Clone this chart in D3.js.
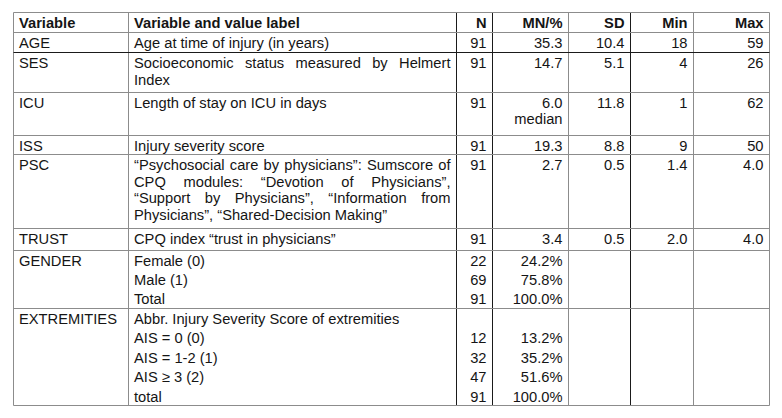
<!DOCTYPE html>
<html><head><meta charset="utf-8">
<script src="https://cdn.jsdelivr.net/npm/d3@7/dist/d3.min.js"></script>
<style>
html,body{margin:0;padding:0;background:#fff;}
svg{display:block;}
text{font-family:"Liberation Sans",Arial,sans-serif;font-size:14.7px;fill:#151515;}
</style></head>
<body>
<svg id="chart" width="782" height="418"></svg>
<script>
// ---- data ----
const headers = ["Variable", "Variable and value label", "N", "MN/%", "SD", "Min", "Max"];
const variables = ["AGE", "SES", "ICU", "ISS", "PSC", "TRUST", "GENDER", "EXTREMITIES"];
const labelLines = [
  ["Age at time of injury (in years)"],
  ["Socioeconomic status measured by Helmert", "Index"],
  ["Length of stay on ICU in days"],
  ["Injury severity score"],
  ["\u201CPsychosocial care by physicians\u201D: Sumscore of",
   "CPQ modules: \u201CDevotion of Physicians\u201D,",
   "\u201CSupport by Physicians\u201D, \u201CInformation from",
   "Physicians\u201D, \u201CShared-Decision Making\u201D"],
  ["CPQ index \u201Ctrust in physicians\u201D"],
  ["Female (0)", "Male (1)", "Total"],
  ["Abbr. Injury Severity Score of extremities", "AIS = 0 (0)", "AIS = 1-2 (1)", "AIS \u2265 3 (2)", "total"]
];
const nValues   = [["91"], ["91"], ["91"], ["91"], ["91"], ["91"], ["22", "69", "91"], ["", "12", "32", "47", "91"]];
const mnValues  = [["35.3"], ["14.7"], ["6.0", "median"], ["19.3"], ["2.7"], ["3.4"], ["24.2%", "75.8%", "100.0%"], ["", "13.2%", "35.2%", "51.6%", "100.0%"]];
const sdValues  = [["10.4"], ["5.1"], ["11.8"], ["8.8"], ["0.5"], ["0.5"], [], []];
const minValues = [["18"], ["4"], ["1"], ["9"], ["1.4"], ["2.0"], [], []];
const maxValues = [["59"], ["26"], ["62"], ["50"], ["4.0"], ["4.0"], [], []];

// ---- layout ----
const colEdges = [13.5, 128.5, 456.5, 492.5, 568.5, 630.5, 693.5, 769.5];
const rowEdges = [12.5, 32.5, 52.5, 92.5, 135.5, 154.5, 228.5, 250.5, 308.5, 405.5];
const justifyRows = {1: [true, false], 4: [true, true, true, false]};
const lineGap = [16.7, 16.7, 15.5, 16.7, 16.7, 16.7, 19.2, 19.4];
const firstBase = 15.5;
const pad = 5.5;

const svg = d3.select("#chart");
const gLines = svg.append("g");
const gText = svg.append("g");

const x = i => colEdges[i];
const rowTop = i => rowEdges[i + 1];

// header
headers.forEach((h, c) => {
  const right = c >= 2;
  gText.append("text")
    .attr("x", right ? x(c + 1) - pad - 0.5 : x(c) + pad)
    .attr("y", rowEdges[0] + firstBase)
    .attr("text-anchor", right ? "end" : "start")
    .style("font-weight", "bold")
    .text(h);
});

function leftText(txt, xx, yy) {
  return gText.append("text").attr("x", xx).attr("y", yy).text(txt);
}

variables.forEach((v, r) => {
  const top = rowTop(r);
  const base = top + firstBase;
  leftText(v, x(0) + pad, base);
  labelLines[r].forEach((line, k) => {
    const yy = base + k * lineGap[r];
    const just = justifyRows[r] && justifyRows[r][k];
    const x0 = x(1) + pad, x1 = x(2) - pad - 0.5;
    if (!just) { leftText(line, x0, yy); return; }
    const words = line.split(" ");
    const nodes = words.map(w => leftText(w, x0, yy));
    const widths = nodes.map(n => n.node().getComputedTextLength());
    const total = d3.sum(widths);
    const gap = (x1 - x0 - total) / (words.length - 1);
    let cx = x0;
    nodes.forEach((n, i) => { n.attr("x", cx); cx += widths[i] + gap; });
  });
  [nValues, mnValues, sdValues, minValues, maxValues].forEach((arr, ci) => {
    arr[r].forEach((val, k) => {
      if (!val) return;
      gText.append("text")
        .attr("x", x(ci + 3) - pad - 0.5)
        .attr("y", base + k * lineGap[r])
        .attr("text-anchor", "end")
        .text(val);
    });
  });
});

// grid lines
const dark = "#1a1a1a", grey = "#8c8c8c";
const vColors = [grey, grey, dark, dark, grey, dark, grey, grey];
colEdges.forEach((cx, i) => {
  gLines.append("line").attr("x1", cx).attr("x2", cx)
    .attr("y1", rowEdges[0]).attr("y2", rowEdges[rowEdges.length - 1])
    .attr("stroke", vColors[i]).attr("stroke-width", 1);
});
rowEdges.forEach((ry, i) => {
  gLines.append("line").attr("x1", colEdges[0]).attr("x2", colEdges[colEdges.length - 1])
    .attr("y1", ry).attr("y2", ry)
    .attr("stroke", i === 2 ? dark : grey).attr("stroke-width", 1);
});
</script>
</body></html>
